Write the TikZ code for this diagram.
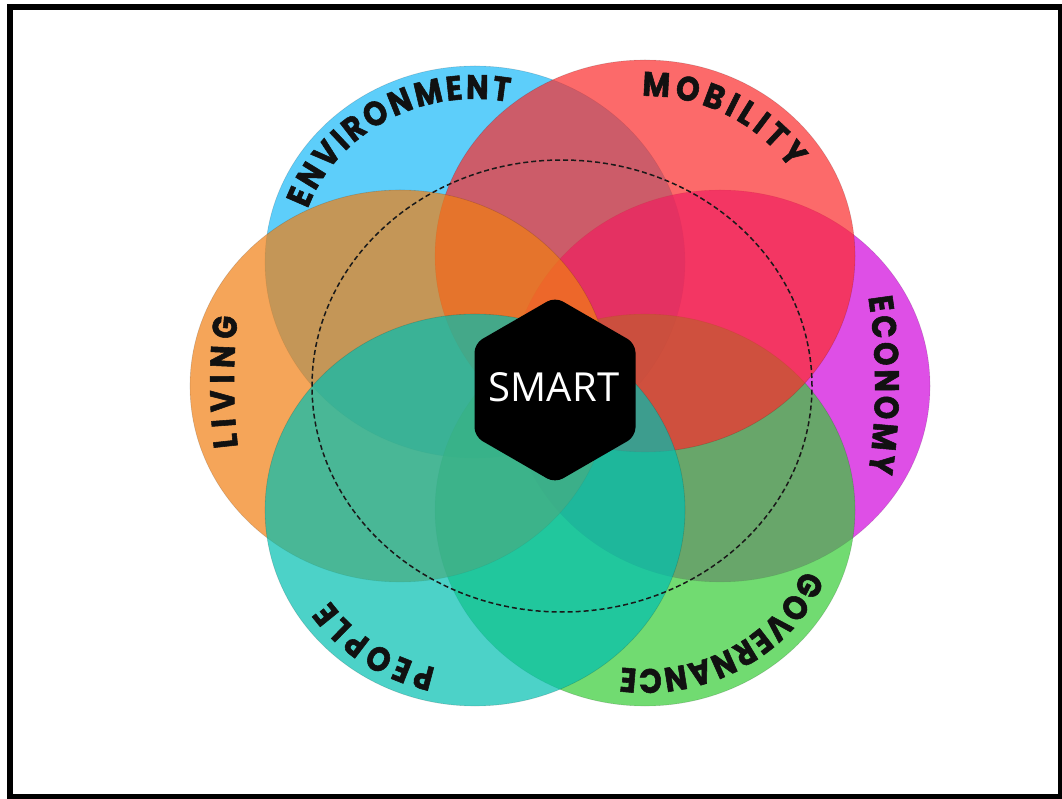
\documentclass[tikz,border=0pt]{standalone}
\usepackage{fontspec}
\newfontfamily\lblfont{Poppins}[FakeStretch=0.88, BoldFeatures={FakeBold=1.6}]
\newfontfamily\smartfont{Open Sans}
\usetikzlibrary{decorations.text}
\definecolor{envc}{RGB}{25,186,248}
\definecolor{mobc}{RGB}{252,44,44}
\definecolor{ecoc}{RGB}{208,5,220}
\definecolor{govc}{RGB}{54,204,54}
\definecolor{livc}{RGB}{241,127,19}
\definecolor{peoc}{RGB}{0,191,177}
\definecolor{labelc}{RGB}{17,17,17}
\tikzset{
  zone/.style={fill=#1, fill opacity=0.7, draw=black, draw opacity=0.15, line width=0.6pt},
  arclabel/.style={decorate, decoration={text along path, text align={fit to path},
      text color=labelc,
      text={|\lblfont\bfseries\fontsize{34}{34}\selectfont|#1}}},
  ring/.style={draw=black!90, dashed, dash pattern=on 5pt off 3pt, line width=1.5pt},
  frame/.style={draw=black, line width=6pt}
}
\begin{document}
\begin{tikzpicture}[x=1pt, y=1pt]
\useasboundingbox (0,0) rectangle (1062,798);
\fill[white] (0,0) rectangle (1062,798);
% circles (bottom to top)
\path[zone=envc] (475,536) ellipse [x radius=210, y radius=196];
\path[zone=ecoc] (720,412) ellipse [x radius=210, y radius=196];
\path[zone=govc] (645,288) ellipse [x radius=210, y radius=196];
\path[zone=mobc] (645,542) ellipse [x radius=210, y radius=196];
\path[zone=livc] (400,412) ellipse [x radius=210, y radius=196];
\path[zone=peoc] (475,288) ellipse [x radius=210, y radius=196];
% dashed ring
\draw[ring] (562,412) ellipse [x radius=250, y radius=226];
% hexagon
\fill[black, rounded corners=9pt] (555,501) -- (635.5,454.5) -- (635.5,361.5) -- (555,315) -- (474.5,361.5) -- (474.5,454.5) -- cycle;
\node[text=white, font=\smartfont\fontsize{40}{40}\selectfont, inner sep=0pt] (smart) at (554,411) {SMART};
% labels
\path[arclabel=ENVIRONMENT] ([shift={(475,536)}]161:177 and 163) arc[start angle=161, end angle=79, x radius=177, y radius=163];
\path[arclabel=MOBILITY] ([shift={(645,542)}]91:173 and 160) arc[start angle=91, end angle=33, x radius=173, y radius=160];
\path[arclabel=ECONOMY] ([shift={(722,413)}]17:153 and 300) arc[start angle=17, end angle=-17, x radius=153, y radius=300];
\path[arclabel=GOVERNANCE] ([shift={(645,288)}]-22:171 and 159) arc[start angle=-22, end angle=-98, x radius=171, y radius=159];
\path[arclabel=PEOPLE] ([shift={(475,288)}]257:175 and 162) arc[start angle=257, end angle=214, x radius=175, y radius=162];
\path[arclabel=LIVING] ([shift={(400,416)}]192.5:166 and 300) arc[start angle=192.5, end angle=167.5, x radius=166, y radius=300];
% frame
\draw[frame] (10,790.5) rectangle (1061,1.5);
\end{tikzpicture}
\end{document}
